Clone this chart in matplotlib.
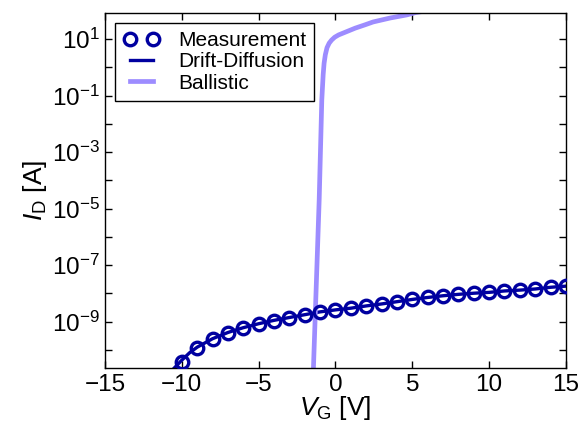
import matplotlib
matplotlib.use("Agg")
import matplotlib.pyplot as plt
import numpy as np
from matplotlib.ticker import FixedLocator, FuncFormatter, NullLocator

# ---- data ----
vg_meas = [-10, -9, -8, -7, -6, -5, -4, -3, -2, -1, 0, 1, 2, 3, 4, 5, 6, 7, 8, 9,
           10, 11, 12, 13, 14, 15]
log_id_meas = [-10.42, -9.94, -9.61, -9.39, -9.21, -9.08, -8.96, -8.86, -8.76, -8.65,
               -8.59, -8.53, -8.44, -8.37, -8.29, -8.21, -8.14, -8.08, -8.03, -7.99,
               -7.96, -7.91, -7.88, -7.84, -7.78, -7.74]

vg_dd = [-10.6, -10, -9.5, -9, -8, -7, -6, -5, -4, -3, -2, -1, 0, 1, 2, 3, 4, 5, 6, 7,
         8, 9, 10, 11, 12, 13, 14, 15]
log_id_dd = [-10.70, -10.36, -10.10, -9.90, -9.60, -9.38, -9.21, -9.07, -8.95, -8.85,
             -8.75, -8.65, -8.58, -8.52, -8.44, -8.37, -8.29, -8.21, -8.14, -8.08,
             -8.03, -7.99, -7.96, -7.91, -7.88, -7.84, -7.78, -7.74]

vg_bal = [-1.45, -1.06, -0.89, -0.80, -0.74, -0.66, -0.55, -0.41, -0.25, -0.05, 0.20,
          0.74, 1.28, 1.93, 2.45, 3.56, 4.65, 5.2, 7.0, 10.0, 15.0]
log_id_bal = [-10.9, -4.69, -1.15, -0.25, 0.15, 0.45, 0.70, 0.86, 0.97, 1.07, 1.15,
              1.27, 1.39, 1.51, 1.61, 1.75, 1.86, 1.94, 2.1, 2.3, 2.5]

labels = ["Measurement", "Drift-Diffusion", "Ballistic"]
xticks = [-15, -10, -5, 0, 5, 10, 15]
ydecades = list(range(-11, 3))

dark = "#0000a0"
light = "#9d8cff"

plt.rcParams["font.family"] = ["Liberation Sans", "DejaVu Sans"]
plt.rcParams["mathtext.fontset"] = "custom"
plt.rcParams["mathtext.rm"] = "Liberation Sans"
plt.rcParams["mathtext.it"] = "Liberation Sans:italic"
plt.rcParams["mathtext.default"] = "regular"

fig = plt.figure(figsize=(5.81, 4.21), dpi=100)
ax = fig.add_axes([0.1807, 0.125, 0.7934, 0.845])

ax.plot(vg_meas, 10.0 ** np.array(log_id_meas), linestyle="none", marker="o",
        markersize=9, markerfacecolor="none", markeredgecolor=dark,
        markeredgewidth=2.4, label=labels[0], zorder=3)
ax.plot(vg_dd, 10.0 ** np.array(log_id_dd), color=dark, linewidth=2.4,
        label=labels[1], zorder=2)
ax.plot(vg_bal, 10.0 ** np.array(log_id_bal), color=light, linewidth=3.4,
        label=labels[2], zorder=2)

ax.set_yscale("log")
ax.set_xlim(-15, 15)
ax.set_ylim(10 ** -10.65, 10 ** 1.94)

ax.xaxis.set_major_locator(FixedLocator(xticks))
ax.xaxis.set_minor_locator(NullLocator())
ax.set_xticklabels([("\u2212" + str(-t)) if t < 0 else str(t) for t in xticks])
ax.yaxis.set_major_locator(FixedLocator([10.0 ** d for d in ydecades]))
ax.yaxis.set_minor_locator(NullLocator())

def yfmt(v, pos):
    e = int(round(np.log10(v)))
    if e % 2 != 0 and e > -10:
        return r"$10^{%d}$" % e
    return ""

ax.yaxis.set_major_formatter(FuncFormatter(yfmt))

ax.tick_params(which="both", direction="in", top=True, right=True, length=5,
               width=1, labelsize=17.5, pad=4)
for s in ax.spines.values():
    s.set_linewidth(1.0)

ax.set_xlabel(r"$\mathit{V}_\mathrm{G}$ [V]", fontsize=19, labelpad=-1.5)
ax.set_ylabel(r"$\mathit{I}_\mathrm{D}$ [A]", fontsize=19, labelpad=2)

leg = ax.legend(loc="upper left", numpoints=2, fontsize=15, fancybox=False,
                frameon=True, edgecolor="black", framealpha=1.0,
                handlelength=1.7, handletextpad=0.9, labelspacing=0.1,
                borderpad=0.4, borderaxespad=0.5)
leg.get_frame().set_linewidth(1.0)

fig.savefig("out.png", dpi=100)
